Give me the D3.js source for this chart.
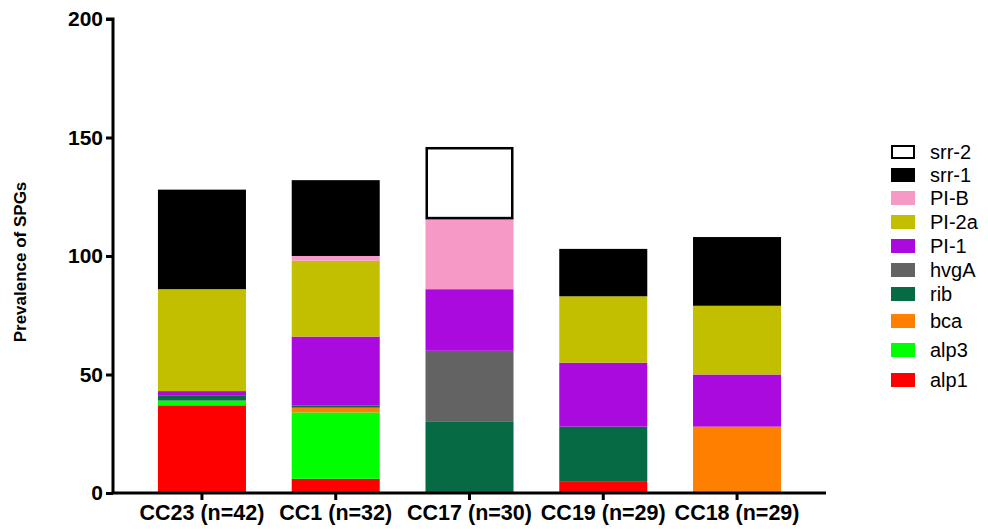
<!DOCTYPE html>
<html>
<head>
<meta charset="utf-8">
<script src="https://cdn.jsdelivr.net/npm/d3@7"></script>
<style>
  html, body { margin: 0; padding: 0; background: #fff; }
  svg { display: block; }
</style>
</head>
<body>
<svg id="chart" width="988" height="529"></svg>
<script>
// ---- data ----
const categories = ["CC23 (n=42)", "CC1 (n=32)", "CC17 (n=30)", "CC19 (n=29)", "CC18 (n=29)"];
const seriesNames = ["alp1", "alp3", "bca", "rib", "hvgA", "PI-1", "PI-2a", "PI-B", "srr-1", "srr-2"];
const alp1  = [37, 6, 0, 5, 0];
const alp3  = [2, 28, 0, 0, 0];
const bca   = [0, 2, 0, 0, 28];
const rib   = [2, 1, 30, 23, 0];
const hvgA  = [0, 0, 30, 0, 0];
const PI1   = [2, 29, 26, 27, 22];
const PI2a  = [43, 32, 0, 28, 29];
const PIB   = [0, 2, 30, 0, 0];
const srr1  = [42, 32, 0, 20, 29];
const srr2  = [0, 0, 30, 0, 0];
const yTicks = [0, 50, 100, 150, 200];
const legendOrder = ["srr-2", "srr-1", "PI-B", "PI-2a", "PI-1", "hvgA", "rib", "bca", "alp3", "alp1"];

const seriesValues = {
  "alp1": alp1, "alp3": alp3, "bca": bca, "rib": rib, "hvgA": hvgA,
  "PI-1": PI1, "PI-2a": PI2a, "PI-B": PIB, "srr-1": srr1, "srr-2": srr2
};
const colors = {
  "alp1": "#ff0000", "alp3": "#00ff00", "bca": "#ff8000", "rib": "#066a45",
  "hvgA": "#636363", "PI-1": "#aa0ade", "PI-2a": "#c1bf00", "PI-B": "#f799c6",
  "srr-1": "#000000", "srr-2": "#ffffff"
};

const rows = categories.map((c, i) => {
  const r = { cat: c };
  seriesNames.forEach(s => r[s] = seriesValues[s][i]);
  return r;
});

const svg = d3.select("#chart");
const FONT = "'Liberation Sans', Arial, sans-serif";

const x = d3.scaleBand().domain(categories).range([113, 826])
  .paddingInner(0.342).paddingOuter(0.336);
const y = d3.scaleLinear().domain([0, 200]).range([493, 19]);

const stacked = d3.stack().keys(seriesNames)(rows);

// bars
const g = svg.append("g");
stacked.forEach(layer => {
  const key = layer.key;
  const o = key === "srr-2" ? 1.25 : 0;
  g.selectAll(null).data(layer.filter(d => d[1] - d[0] > 0)).enter()
    .append("rect")
    .attr("x", d => x(d.data.cat) + o)
    .attr("width", x.bandwidth() - 2 * o)
    .attr("y", d => y(d[1]) + o)
    .attr("height", d => y(d[0]) - y(d[1]) - o)
    .attr("fill", colors[key])
    .attr("stroke", key === "srr-2" ? "#000" : "none")
    .attr("stroke-width", key === "srr-2" ? 2.5 : 0);
});

// y axis
const yAxis = svg.append("g").attr("transform", "translate(113,0)")
  .call(d3.axisLeft(y).tickValues(yTicks).tickSize(7).tickPadding(3));
yAxis.select(".domain").attr("stroke", "#000").attr("stroke-width", 3)
  .attr("d", `M-7,${y(200)}H0V${y(0)}`);
yAxis.selectAll(".tick line").attr("stroke", "#000").attr("stroke-width", 3);
yAxis.selectAll(".tick text").attr("font-family", FONT).attr("font-weight", "bold")
  .attr("font-size", 21).attr("fill", "#000");

// x axis
const xAxis = svg.append("g").attr("transform", `translate(0,${y(0)})`)
  .call(d3.axisBottom(x).tickSize(7).tickPadding(5));
xAxis.select(".domain").attr("stroke", "#000").attr("stroke-width", 3)
  .attr("d", `M111.5,0H826`);
xAxis.selectAll(".tick line").attr("stroke", "#000").attr("stroke-width", 3);
xAxis.selectAll(".tick text").attr("font-family", FONT).attr("font-weight", "bold")
  .attr("font-size", 21.5).attr("fill", "#000");

// y title
svg.append("text")
  .attr("transform", "translate(26,262) rotate(-90)")
  .attr("text-anchor", "middle")
  .attr("font-family", FONT).attr("font-weight", "bold").attr("font-size", 17)
  .text("Prevalence of SPGs");

// legend
const legendY = [152, 175, 198, 222, 246, 270, 294, 321, 350, 380];
const lg = svg.append("g");
legendOrder.forEach((k, i) => {
  const cy = legendY[i];
  const hollow = k === "srr-2";
  lg.append("rect")
    .attr("x", hollow ? 892 : 891).attr("y", cy - 7 + (hollow ? 1 : 0))
    .attr("width", hollow ? 22 : 24).attr("height", hollow ? 12 : 14)
    .attr("fill", colors[k])
    .attr("stroke", hollow ? "#000" : "none")
    .attr("stroke-width", 2);
  lg.append("text")
    .attr("x", 930).attr("y", cy).attr("dy", "0.35em")
    .attr("font-family", FONT).attr("font-size", 20).attr("fill", "#000")
    .text(k);
});
</script>
</body>
</html>
